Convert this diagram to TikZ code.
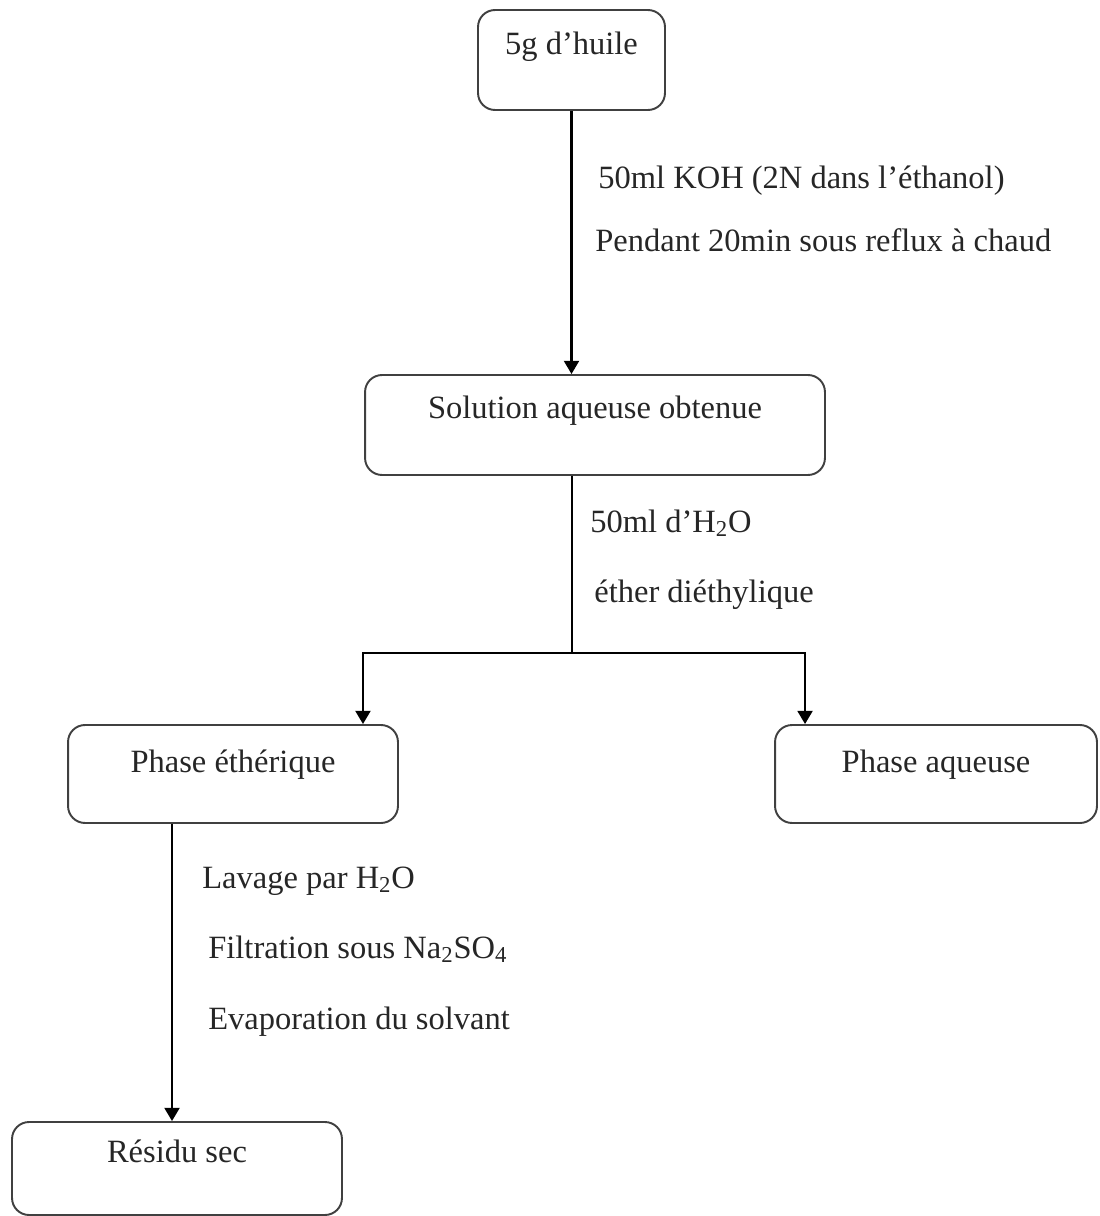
\documentclass[tikz,border=0pt]{standalone}
\usepackage{fontspec}
\setmainfont{Liberation Serif}
\usepackage{tikz}
\usetikzlibrary{arrows.meta,calc,positioning}

\begin{document}
\begin{tikzpicture}[
    x=0.02cm, y=-0.02cm,
    every node/.style={font=\fontsize{18.5}{22}\selectfont, text=black!85},
    box/.style={draw=black!75, line width=1.1pt, rounded corners=0.34cm,
                inner sep=0pt, text height=0.9cm, text depth=1.1cm},
    note/.style={anchor=base west, inner sep=0pt},
    link/.style={line width=1.3pt},
    arrow/.style={link,-{Triangle[width=8.5pt,length=7.5pt]}}
]
\useasboundingbox (0,0) rectangle (1099,1216);

% process steps
\node[box,minimum width=3.74cm] (oil) at (571.5,60) {5g d’huile};
\node[box,minimum width=9.2cm,text height=0.86cm,text depth=1.14cm] (sol) at (595,425) {Solution aqueuse obtenue};
\node[box,minimum width=6.6cm,text height=0.94cm,text depth=1.02cm] (eth) at (233,774) {Phase éthérique};
\node[box,minimum width=6.44cm,text height=0.94cm,text depth=1.02cm] (aq) at (936,774) {Phase aqueuse};
\node[box,minimum width=6.6cm,text height=0.8cm,text depth=1.06cm] (res) at (177,1168.5) {Résidu sec};

% saponification
\draw[arrow] (oil.south) -- (oil.south |- sol.north);
\node[note] (koh) at (598,189) {50ml KOH (2N dans l’éthanol)};
\node[note] (reflux) at (595,252) {Pendant 20min sous reflux à chaud};

% extraction, split into two phases
\coordinate (fork) at (572,653);
\draw[link] (fork |- sol.south) -- (fork);
\draw[arrow] (fork) -| ([xshift=2.6cm]eth.north);
\draw[arrow] (fork) -| ([xshift=-2.62cm]aq.north);
\node[note] (water) at (590,532) {50ml d’H\textsubscript{2}O};
\node[note] (ether) at (594,602) {éther diéthylique};

% treatment of the ether phase
\draw[arrow] ([xshift=-1.22cm]eth.south) -- ([xshift=-1.22cm]eth.south |- res.north);
\node[note] (wash) at (202,888) {Lavage par H\textsubscript{2}O};
\node[note] (filt) at (208,958) {Filtration sous Na\textsubscript{2}SO\textsubscript{4}};
\node[note] (evap) at (208,1029) {Evaporation du solvant};
\end{tikzpicture}
\end{document}
